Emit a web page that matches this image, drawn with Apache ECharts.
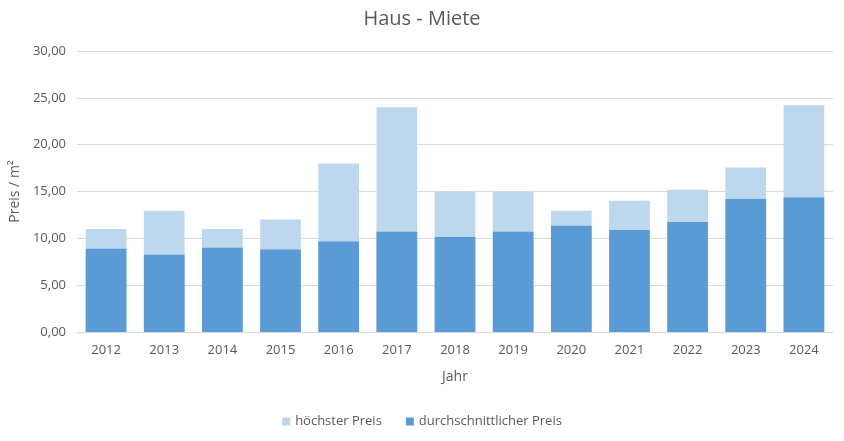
<!DOCTYPE html>
<html><head><meta charset="utf-8">
<script src="https://cdn.jsdelivr.net/npm/echarts@6/dist/echarts.min.js"></script>
<style>html,body{margin:0;padding:0;background:#fff}#c{width:844px;height:441px}</style>
</head><body><div id="c"></div>
<script>
const years = ['2012','2013','2014','2015','2016','2017','2018','2019','2020','2021','2022','2023','2024'];
const hoechsterPreis = [11.0, 12.95, 11.0, 12.0, 18.0, 24.0, 15.0, 15.0, 12.95, 14.0, 15.2, 17.55, 24.2];
const durchschnittPreis = [8.9, 8.25, 9.0, 8.8, 9.65, 10.7, 10.15, 10.7, 11.35, 10.9, 11.75, 14.2, 14.35];
const seriesNames = ['höchster Preis', 'durchschnittlicher Preis'];
const FONT = '"Open Sans", "Noto Sans", sans-serif';
const chart = echarts.init(document.getElementById('c'), null, {renderer: 'canvas'});
chart.setOption({
  animation: false,
  backgroundColor: '#fff',
  textStyle: {fontFamily: FONT},
  title: {text: 'Haus - Miete', left: 'center', top: 4,
    textStyle: {fontFamily: FONT, fontSize: 20, fontWeight: 'normal', color: '#595959'}},
  legend: {bottom: 8, left: 'center', itemWidth: 8, itemHeight: 8, itemGap: 24,
    icon: 'rect', data: seriesNames,
    textStyle: {fontFamily: FONT, fontSize: 13, color: '#595959'}},
  grid: {left: 72, right: 11, top: 51, bottom: 109},
  xAxis: {type: 'category', data: years,
    name: 'Jahr', nameLocation: 'middle', nameGap: 38,
    nameTextStyle: {fontFamily: FONT, fontSize: 14, color: '#595959'},
    axisLine: {lineStyle: {color: '#D9D9D9'}}, axisTick: {show: false},
    axisLabel: {fontFamily: FONT, fontSize: 13, color: '#595959', margin: 12}},
  yAxis: {type: 'value', min: 0, max: 30, interval: 5,
    name: 'Preis / m²', nameLocation: 'middle', nameGap: 55, nameRotate: 90,
    nameTextStyle: {fontFamily: FONT, fontSize: 14, color: '#595959'},
    axisLine: {show: false}, axisTick: {show: false},
    splitLine: {lineStyle: {color: '#D9D9D9'}},
    axisLabel: {fontFamily: FONT, fontSize: 13, color: '#595959', margin: 11,
      formatter: v => v.toFixed(2).replace('.', ',')}},
  series: [
    {name: seriesNames[0], type: 'bar', data: hoechsterPreis, barWidth: '70%', barGap: '-100%',
      itemStyle: {color: '#BDD7EE'}, z: 1},
    {name: seriesNames[1], type: 'bar', data: durchschnittPreis, barWidth: '70%', barGap: '-100%',
      itemStyle: {color: '#5B9BD5'}, z: 2}
  ]
});
</script></body></html>
